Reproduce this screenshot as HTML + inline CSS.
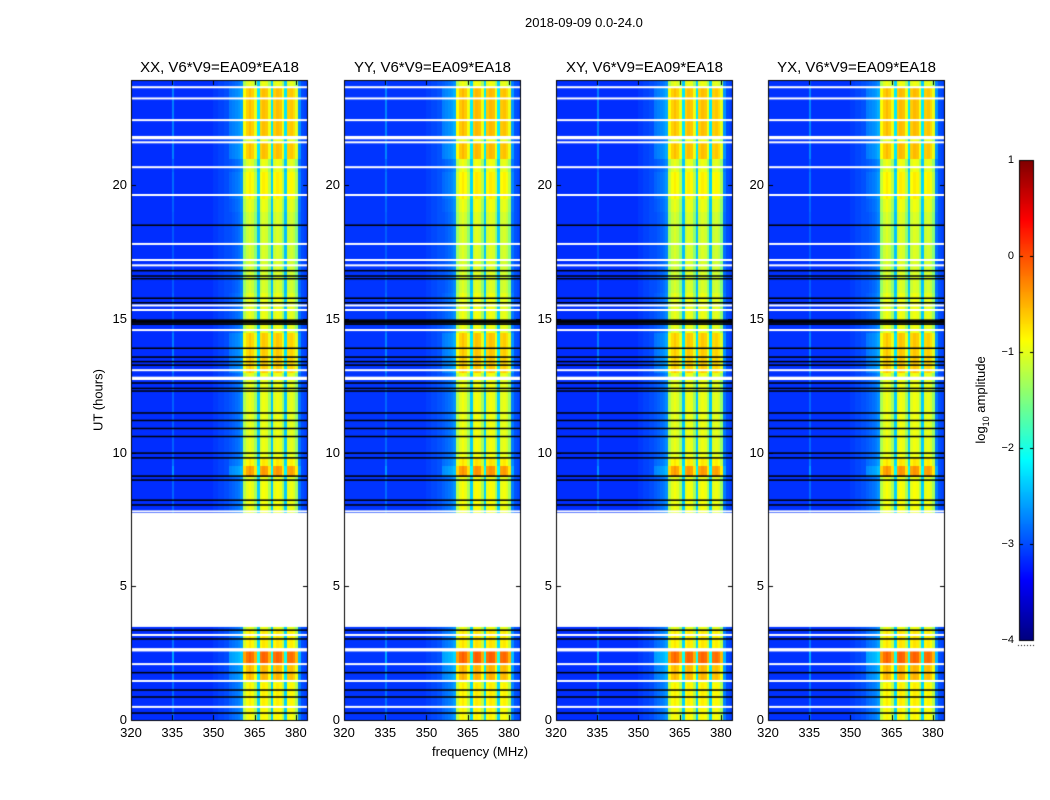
<!DOCTYPE html>
<html><head><meta charset="utf-8">
<style>
body{margin:0;background:#fff;width:1050px;height:800px;overflow:hidden;position:relative;font-family:"Liberation Sans",sans-serif;color:#000}
.t{position:absolute;white-space:nowrap;font-size:13px}
.ttl{position:absolute;font-size:15px;white-space:nowrap;transform:translateX(-50%)}
canvas{position:absolute;left:0;top:0}
</style></head><body>
<canvas id="cv" width="1050" height="800"></canvas>
<div class="t" style="left:432px;top:744px">frequency (MHz)</div>
<div class="t" style="left:525px;top:15px">2018-09-09 0.0-24.0</div>
<div class="t" style="left:98px;top:400px;transform:translate(-50%,-50%) rotate(-90deg)">UT (hours)</div>
<div class="t" style="left:982px;top:400px;transform:translate(-50%,-50%) rotate(-90deg)">log<sub style="font-size:9px">10</sub> amplitude</div>
<div id="labels"></div>
<script>
// ---- data ----
const panelTitles=["XX, V6*V9=EA09*EA18","YY, V6*V9=EA09*EA18","XY, V6*V9=EA09*EA18","YX, V6*V9=EA09*EA18"];
const panelGain=[0,0.03,0,0.02];
const freqTicks=[320,335,350,365,380];
const timeTicks=[0,5,10,15,20];
const cbTicks=[1,0,-1,-2,-3,-4];
// channel profile, 1 MHz bins from 320 to 384
const chanProfile=[-3.15,-3.15,-3.15,-3.15,-3.15,-3.15,-3.15,-3.15,-3.15,-3.15,-3.15,-3.15,-3.15,-3.15,-3.15,-2.9,-3.15,-3.15,-3.15,-3.15,
-3.15,-3.15,-3.15,-3.15,-3.15,-3.15,-3.15,-3.15,-3.15,-3.15,-3.1,-3.1,-3.05,-3.05,-3.0,-3.0,-2.95,-2.9,-2.85,-2.8,
-2.7,-1.3,-1.05,-0.95,-1.05,-1.35,-2.4,-1.05,-0.95,-1.0,-1.35,-2.4,-1.05,-0.95,-1.0,-1.35,-2.4,-1.05,-1.0,-1.1,-1.4,-2.8,-3.0,-3.05,-3.1];
// band brightening segments [startHour,endHour,add]
const boostStart=[0,0.5,1.5,2.1,2.7,7.8,9.1,9.5,13.0,16.0,19.5,21.0,21.8];
const boostEnd=[0.5,1.4,2.1,2.65,3.4,8.9,9.5,9.8,14.5,19.0,20.5,21.6,23.7];
const boostAdd=[0.1,0.15,0.45,0.85,0.2,0.05,0.6,0.2,0.35,-0.1,0.15,0.4,0.4];
const gapStart=3.48, gapEnd=7.74, dataEnd=24;
const whiteRows=[23.66,23.24,22.43,21.8,21.75,21.6,20.67,19.63,17.8,17.2,17.0,15.5,15.33,14.58,13.08,12.8,12.75,7.8,3.18,2.65,2.6,2.09,1.46,0.49];
const blackRows=[18.5,16.8,16.6,16.5,15.77,15.6,14.8,14.85,14.9,14.95,13.9,13.57,13.4,13.27,12.6,12.4,12.3,11.48,11.2,10.9,10.6,9.98,9.8,9.12,8.97,8.22,8.04,3.36,3.03,1.77,1.12,0.86,0.26];

// ---- layout ----
const panelX=[131,344,556,768], PW=177, PY0=80, PY1=720;
const FMIN=320, FMAX=384.4, TMAX=23.93;
const xs=(p,f)=>panelX[p]+(f-FMIN)/(FMAX-FMIN)*PW;
const ys=t=>PY1-t/TMAX*(PY1-PY0);
function jet(v){let x=(v+4)/5;x=Math.max(0,Math.min(1,x));
 const r=Math.max(0,Math.min(1,Math.min(4*x-1.5,-4*x+4.5)));
 const g=Math.max(0,Math.min(1,Math.min(4*x-0.5,-4*x+3.5)));
 const b=Math.max(0,Math.min(1,Math.min(4*x+0.5,-4*x+2.5)));
 return `rgb(${r*255|0},${g*255|0},${b*255|0})`;}
function boost(t){let a=0;for(let i=0;i<boostStart.length;i++)if(t>=boostStart[i]&&t<boostEnd[i])a+=boostAdd[i];return a;}
const cv=document.getElementById('cv'),ctx=cv.getContext('2d');
const dt=0.1, lab=document.getElementById('labels');
function addText(txt,x,y,cls,name,extra){const d=document.createElement('div');d.className=cls;d.textContent=txt;d.style.left=x+'px';d.style.top=y+'px';if(extra)d.style.cssText+=extra;


lab.appendChild(d);}
for(let p=0;p<4;p++){
 for(let t=0;t<dataEnd;t+=dt){
  const tm=t+dt/2; if(tm>gapStart&&tm<gapEnd)continue;
  const y0=Math.floor(ys(Math.min(t+dt,TMAX))),y1=Math.ceil(ys(t)); if(y1<=PY0)continue;
  const b=boost(tm);
  for(let c=0;c<chanProfile.length;c++){
   const f=FMIN+c; let v=chanProfile[c]+panelGain[p];
   if(chanProfile[c]>-3.0&&chanProfile[c]<-2.2)v+=b*0.4; else if(chanProfile[c]>=-2.2)v+=b;
   ctx.fillStyle=jet(v);
   const x0=Math.floor(xs(p,f)),x1=Math.ceil(Math.min(xs(p,f+1),panelX[p]+PW));
   ctx.fillRect(x0,Math.max(y0,PY0),x1-x0,y1-Math.max(y0,PY0));
  }
 }
 ctx.fillStyle='#fff';
 whiteRows.forEach(t=>ctx.fillRect(panelX[p],ys(t)-1,PW,2));
 ctx.fillStyle='#000';
 blackRows.forEach(t=>ctx.fillRect(panelX[p],ys(t)-0.75,PW,1.5));
 ctx.fillStyle='#fff';ctx.fillRect(panelX[p],ys(gapEnd),PW,ys(gapStart)-ys(gapEnd));
 ctx.strokeStyle='#000';ctx.lineWidth=1;ctx.strokeRect(panelX[p]+0.5,PY0+0.5,PW-1,PY1-PY0);
 ctx.beginPath();
 freqTicks.forEach(f=>{const x=Math.round(xs(p,f))+0.5;ctx.moveTo(x,PY1);ctx.lineTo(x,PY1-5);ctx.moveTo(x,PY0);ctx.lineTo(x,PY0+5);
   addText(String(f),xs(p,f),725,'t','x-tick-label','transform:translateX(-50%)');});
 timeTicks.forEach(tt=>{const y=Math.round(ys(tt))+0.5;ctx.moveTo(panelX[p],y);ctx.lineTo(panelX[p]+5,y);ctx.moveTo(panelX[p]+PW,y);ctx.lineTo(panelX[p]+PW-5,y);
   addText(String(tt),panelX[p]-4,ys(tt)-8,'t','y-tick-label','transform:translateX(-100%)');});
 ctx.stroke();
 addText(panelTitles[p],panelX[p]+PW/2,59,'ttl','panel-title');
}
// colorbar
const CX=1019,CW=15,CY0=160,CY1=640;
for(let y=CY0;y<CY1;y++){ctx.fillStyle=jet(1-(y-CY0+0.5)/(CY1-CY0)*5);ctx.fillRect(CX,y,CW,1);}
ctx.strokeStyle='#000';ctx.strokeRect(CX+0.5,CY0+0.5,CW-1,CY1-CY0);
ctx.beginPath();
cbTicks.forEach(v=>{const y=Math.round(CY0+(1-v)/5*(CY1-CY0))+0.5;ctx.moveTo(CX,y);ctx.lineTo(CX+4,y);ctx.moveTo(CX+CW,y);ctx.lineTo(CX+CW-4,y);
 addText(v<0?'\u2212'+(-v):String(v),1014,y-7,'t','colorbar-tick-label','transform:translateX(-100%);font-size:11px');});
ctx.stroke();
ctx.setLineDash([1,2]);ctx.beginPath();ctx.moveTo(1018,645.5);ctx.lineTo(1034,645.5);ctx.stroke();
</script>
</body></html>
